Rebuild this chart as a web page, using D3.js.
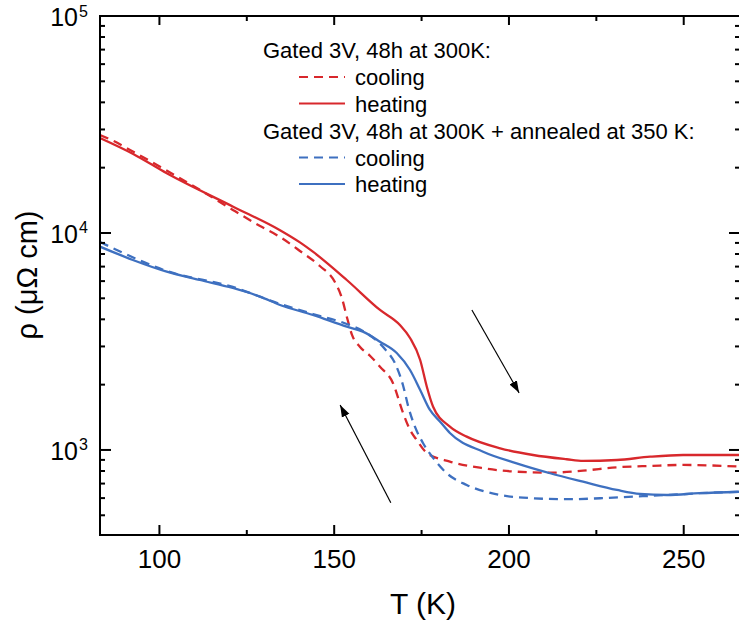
<!DOCTYPE html>
<html>
<head>
<meta charset="utf-8">
<script src="https://cdn.jsdelivr.net/npm/d3@7"></script>
<style>
  body { margin: 0; background: #fff; }
  svg { display: block; font-family: "Liberation Sans", Arial, sans-serif; }
</style>
</head>
<body>
<div id="chart"></div>
<script>
// red: gated 3V, 48h at 300K
const redCoolT   = [83.0, 86.7, 91.6, 111.6, 121.0, 128.8, 134.5, 140.2, 145.9, 150.2, 152.2, 153.7, 155.1, 157.4, 160.3, 163.1, 166.8, 169.7, 171.7, 173.6, 176.5, 183.1, 192.6, 202.2, 211.8, 221.2, 230.9, 240.4, 249.8, 266];
const redCoolRho = [28290, 26630, 24130, 15790, 12770, 10770, 9585, 8264, 7045, 5945, 5018, 4058, 3388, 2983, 2712, 2420, 2036, 1481, 1237, 1112, 969, 884, 824, 794, 786, 803, 832, 844, 853, 838];
const redHeatT   = [83.0, 92.5, 102.1, 121.1, 134.5, 140.2, 143.9, 153.6, 163.1, 168.8, 171.7, 174.6, 176.5, 178.3, 183.1, 187.9, 197.5, 206.9, 216.5, 221.2, 230.9, 240.4, 249.8, 266];
const redHeatRho = [27400, 23130, 18840, 13220, 10300, 9050, 8200, 6072, 4418, 3767, 3282, 2598, 1957, 1583, 1281, 1152, 1018, 948, 906, 890, 899, 931, 948, 948];
// blue: same + annealed at 350 K
const blueCoolT   = [83.0, 87.8, 102.1, 121.0, 134.5, 143.9, 153.6, 158.2, 164.5, 167.4, 169.8, 171.2, 173.1, 175.4, 178.3, 182.2, 187.9, 197.5, 206.9, 216.5, 226.1, 235.5, 245.2, 254.5, 266];
const blueCoolRho = [9090, 8350, 6682, 5640, 4708, 4233, 3807, 3535, 2920, 2508, 1957, 1583, 1281, 1077, 919, 781, 690, 620, 599, 593, 599, 609, 620, 632, 642];
const blueHeatT   = [83.0, 92.4, 102.1, 111.6, 121.0, 128.8, 134.5, 143.9, 153.6, 158.2, 163.1, 167.9, 171.7, 174.6, 177.4, 180.3, 183.1, 192.6, 202.2, 211.8, 221.2, 230.9, 237.5, 245.2, 254.5, 266];
const blueHeatRho = [8650, 7510, 6632, 6072, 5579, 5087, 4658, 4190, 3700, 3510, 3156, 2799, 2337, 1890, 1529, 1350, 1197, 982, 868, 781, 714, 654, 627, 620, 632, 642];

const xTicks = [100, 150, 200, 250];
const xMinorTicks = [125, 175, 225];
const yTicks = [1e3, 1e4, 1e5];
const yTickExp = ["3", "4", "5"];

// arrows [T0, rho0, T1, rho1], tail -> head
const arrows = [[166.2, 571, 151.7, 1611], [189.4, 4416, 202.9, 1833]];

const legendGroups = ["Gated 3V, 48h at 300K:", "Gated 3V, 48h at 300K + annealed at 350 K:"];
const legendItems = ["cooling", "heating"];

const red = "#d8282c", blue = "#3e70c0";

const W = 739, H = 629;
const L = 100, R = 740, T = 16, B = 535;

const x = d3.scaleLinear().domain([83, 266.1]).range([L, R]);
const y = d3.scaleLog().domain([405.6, 1e5]).range([B, T]);

const svg = d3.select("#chart").append("svg").attr("width", W).attr("height", H);

const defs = svg.append("defs");
defs.append("clipPath").attr("id", "clip").append("rect")
  .attr("x", L).attr("y", T).attr("width", R - L).attr("height", B - T);
defs.append("marker").attr("id", "head")
  .attr("viewBox", "0 0 10 10").attr("refX", 10).attr("refY", 5)
  .attr("markerWidth", 12).attr("markerHeight", 12).attr("markerUnits", "userSpaceOnUse")
  .attr("orient", "auto")
  .append("path").attr("d", "M0,1.5 L10,5 L0,8.5 Z").attr("fill", "#000");

const line = d3.line().x(d => x(d[0])).y(d => y(d[1])).curve(d3.curveMonotoneX);

const series = [
  { t: redCoolT, r: redCoolRho, c: red, dash: true },
  { t: blueCoolT, r: blueCoolRho, c: blue, dash: true },
  { t: redHeatT, r: redHeatRho, c: red, dash: false },
  { t: blueHeatT, r: blueHeatRho, c: blue, dash: false }
];

const plot = svg.append("g").attr("clip-path", "url(#clip)");
series.forEach(s => {
  plot.append("path")
    .datum(d3.zip(s.t, s.r))
    .attr("d", line)
    .attr("fill", "none")
    .attr("stroke", s.c)
    .attr("stroke-width", 2.3)
    .attr("stroke-dasharray", s.dash ? "9,6" : null);
});

// arrows
arrows.forEach(a => {
  svg.append("line")
    .attr("x1", x(a[0])).attr("y1", y(a[1]))
    .attr("x2", x(a[2])).attr("y2", y(a[3]))
    .attr("stroke", "#000").attr("stroke-width", 1.2)
    .attr("marker-end", "url(#head)");
});

// axes (ticks inward on all four sides)
const ax = svg.append("g").attr("stroke", "#000").attr("stroke-width", 2);
ax.append("rect").attr("x", L).attr("y", T).attr("width", R - L).attr("height", B - T).attr("fill", "none");

xTicks.forEach(v => {
  ax.append("line").attr("x1", x(v)).attr("x2", x(v)).attr("y1", B).attr("y2", B - 10);
  ax.append("line").attr("x1", x(v)).attr("x2", x(v)).attr("y1", T).attr("y2", T + 9);
});
xMinorTicks.forEach(v => {
  ax.append("line").attr("x1", x(v)).attr("x2", x(v)).attr("y1", B).attr("y2", B - 5);
  ax.append("line").attr("x1", x(v)).attr("x2", x(v)).attr("y1", T).attr("y2", T + 5);
});

const yMinor = [];
[100, 1000, 10000].forEach(base => {
  for (let k = 2; k <= 9; k++) {
    const v = base * k;
    if (v > y.domain()[0] && v < y.domain()[1]) yMinor.push(v);
  }
});
yTicks.forEach(v => {
  ax.append("line").attr("x1", L).attr("x2", L + 11).attr("y1", y(v)).attr("y2", y(v));
  ax.append("line").attr("x1", R).attr("x2", R - 11).attr("y1", y(v)).attr("y2", y(v));
});
yMinor.forEach(v => {
  ax.append("line").attr("x1", L).attr("x2", L + 5).attr("y1", y(v)).attr("y2", y(v));
  ax.append("line").attr("x1", R).attr("x2", R - 5).attr("y1", y(v)).attr("y2", y(v));
});

// tick labels
xTicks.forEach(v => {
  svg.append("text").attr("x", x(v)).attr("y", 568)
    .attr("text-anchor", "middle").attr("font-size", 26).text(v);
});
yTicks.forEach((v, i) => {
  svg.append("text").attr("x", 78).attr("y", y(v) + 10)
    .attr("text-anchor", "end").attr("font-size", 25).text("10");
  svg.append("text").attr("x", 79).attr("y", y(v) + 0.5)
    .attr("font-size", 16).text(yTickExp[i]);
});

// axis titles
svg.append("text").attr("x", 423).attr("y", 614)
  .attr("text-anchor", "middle").attr("font-size", 30).text("T (K)");
svg.append("text").attr("transform", "translate(37,275) rotate(-90)")
  .attr("text-anchor", "middle").attr("font-size", 29).text("ρ (μΩ cm)");

// legend
const lg = svg.append("g").attr("font-size", 22);
const colors = [red, blue];
legendGroups.forEach((g, gi) => {
  const base = 58 + gi * 80.5;
  lg.append("text").attr("x", 263).attr("y", base).text(g);
  legendItems.forEach((it, ii) => {
    const by = base + 27 + ii * 26.5;
    lg.append("line").attr("x1", 299).attr("x2", 345)
      .attr("y1", by - 8).attr("y2", by - 8)
      .attr("stroke", colors[gi]).attr("stroke-width", 2.2)
      .attr("stroke-dasharray", ii === 0 ? "9,6" : null);
    lg.append("text").attr("x", 355).attr("y", by).text(it);
  });
});
</script>
</body>
</html>
